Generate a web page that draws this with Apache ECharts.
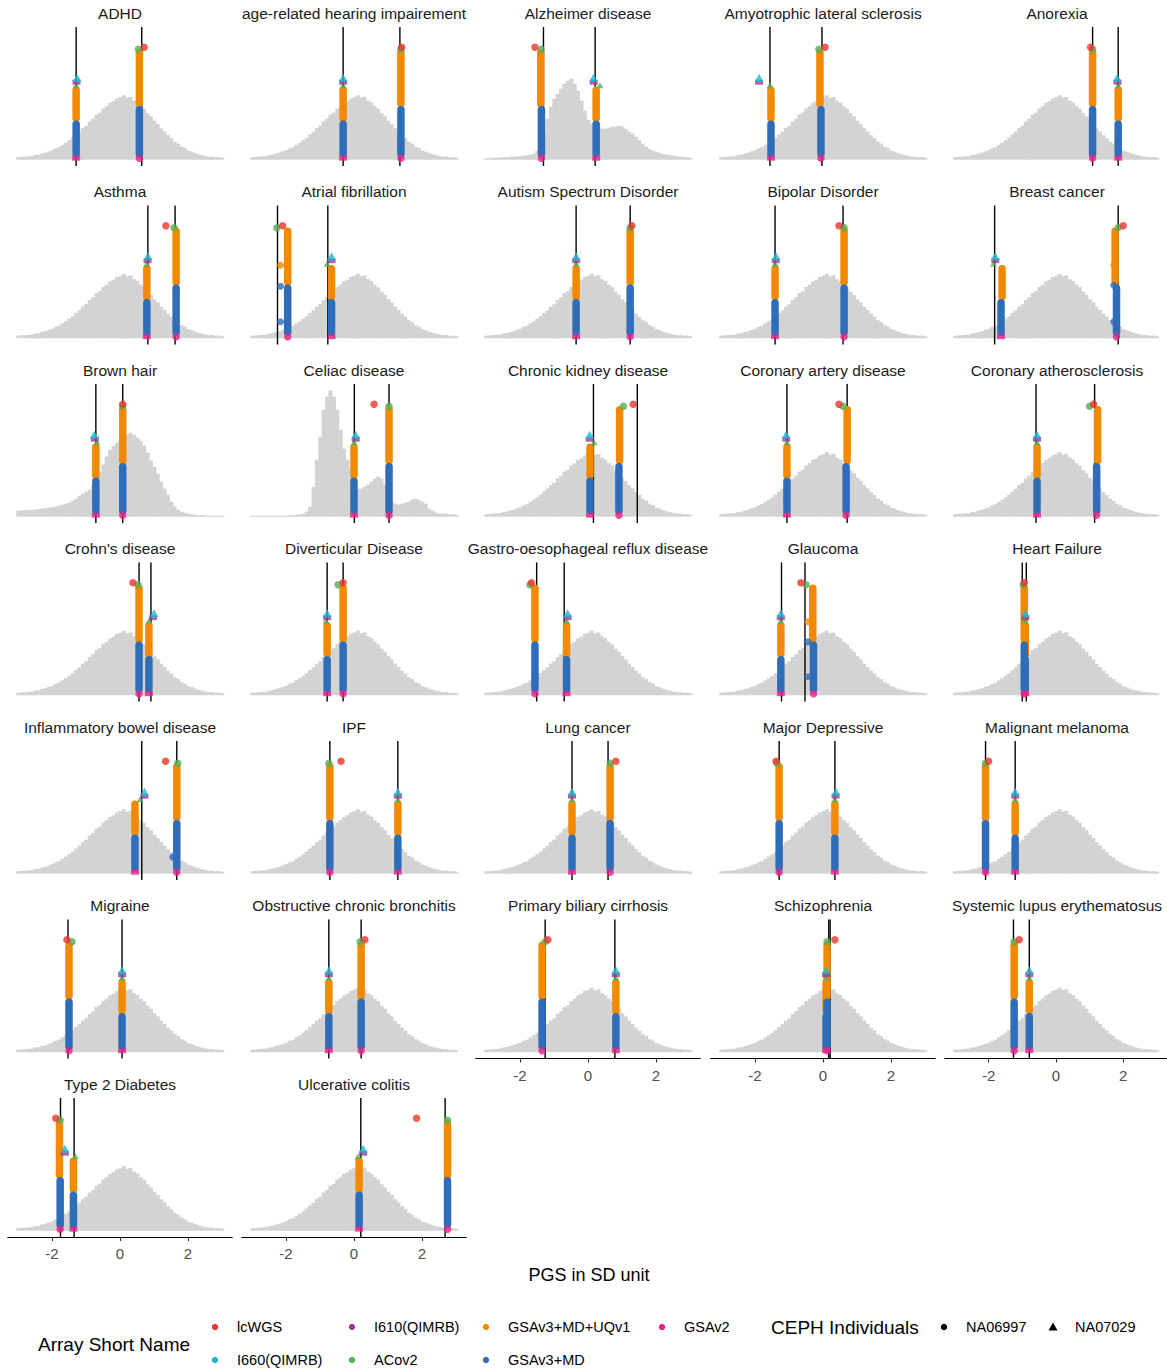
<!DOCTYPE html>
<html><head><meta charset="utf-8">
<script src="https://cdn.jsdelivr.net/npm/echarts@6/dist/echarts.min.js"></script>
<style>html,body{margin:0;padding:0;background:#fff}#chart{width:1167px;height:1369px}</style>
</head><body><div id="chart"></div>
<script>
// ---------------- DATA ----------------
const panelNames = ['ADHD','age-related hearing impairement','Alzheimer disease','Amyotrophic lateral sclerosis','Anorexia',
  'Asthma','Atrial fibrillation','Autism Spectrum Disorder','Bipolar Disorder','Breast cancer',
  'Brown hair','Celiac disease','Chronic kidney disease','Coronary artery disease','Coronary atherosclerosis',
  "Crohn's disease",'Diverticular Disease','Gastro-oesophageal reflux disease','Glaucoma','Heart Failure',
  'Inflammatory bowel disease','IPF','Lung cancer','Major Depressive','Malignant melanoma',
  'Migraine','Obstructive chronic bronchitis','Primary biliary cirrhosis','Schizophrenia','Systemic lupus erythematosus',
  'Type 2 Diabetes','Ulcerative colitis'];

// histogram bins: centres from -3.0 to 3.0, width 0.1
const histBinStart = -3.0;
const histBinWidth = 0.1;
const histNormal = [2.5,2.8,3,3.4,3.5,4.6,5,6.2,7,8.3, 9.5,11.4,12.5,14.9,17,19.4,22,25.2,28,31.6, 34,38.2,41,45.1,47,51.2,53.5,56.8,58.5,61.2,
  62.5,64.5,62,62.8,59,57.2,53.5,51,46.5,43.4, 39,35.8,31.5,28.3,24.5,21.6,18,16.1,13,11.5, 9,8,6.5,5.4,4.5,3.8,3,3.1,2.5,2.6,2];
const histAlzheimer = [1.5,1.5,2,2,2,2.5,2.5,3,3,3, 3.5,4,4.5,5,6,9,14,27,41,53, 61,66,71,76,79,81,76,69,59,49,
  40,36,34,33,31,31,32,33,33,34, 33,31,28,26,23,19.5,16,13,11,9, 8,6.5,5.5,5,4.5,4,3.5,3,3,2.5,2];
const histCeliac = [1,1,1,1,1,1,1,1,1,1, 1,1.5,1.5,2,2.5,3,5,10,30,57, 80,107,120,126,120,107,87,68,57,47,
  36,28,28,30,32,35,38,40,38,32, 23,15,13,12,13,14,15,17,18,17, 15,13,8,6,4,3,3,3,2.5,2.5,2];
const histBrownHair = [6,6,6.5,6.5,7,7,7.5,8,8.5,9, 9.5,10,11,12,13,14,16,18,21,23, 25,27,31,37,45,52,60,67,71,74,
  76,79,82,84,82,79,76,71,64,56, 50,43,35,28,22,15,10,7,5,4, 3,2.5,2,1.5,1.5,1.2,1,1,1,1,1];
const panelHist = ['normal','normal','alzheimer','normal','normal','normal','normal','normal','normal','normal',
  'brown','celiac','normal','normal','normal','normal','normal','normal','normal','normal',
  'normal','normal','normal','normal','normal','normal','normal','normal','normal','normal','normal','normal'];

// vertical reference lines
const vlineA = [-1.29,-0.32,-1.31,-1.56,1.09, 0.82,-2.25,-0.35,-1.41,-1.82, -0.71,0.01,0.16,-1.06,-0.59,
  0.56,-0.79,-1.51,-1.22,-1.00, 0.64,-0.71,-0.47,-1.29,-2.09, -1.53,-0.74,-1.26,0.17,-1.26, -1.75,0.20];
const vlineB = [0.64,1.35,0.21,-0.03,1.85, 1.62,-0.77,1.24,0.59,1.85, 0.08,1.03,1.45,0.71,1.15,
  0.91,-0.32,-0.70,-0.53,-0.88, 1.67,1.29,0.59,0.35,-1.21, 0.06,0.21,0.79,0.21,-0.79, -1.35,2.68];

// NA06997 (circles) x positions per array
const circleBlueX = [0.57,1.38,-1.37,-0.06,1.09, 1.65,-1.95,1.24,0.62,1.80, 0.08,1.03,0.91,0.68,1.21,
  0.56,-0.32,-1.56,-0.28,-0.94, 1.67,-0.71,0.65,-1.29,-2.09, -1.50,0.21,-1.35,0.12,-1.24, -1.76,2.75];
const circleOrangeX = [0.57,1.38,-1.39,-0.09,1.09, 1.65,-1.95,1.24,0.62,1.76, 0.08,1.03,0.93,0.71,1.24,
  0.56,-0.32,-1.56,-0.30,-0.94, 1.67,-0.71,0.65,-1.29,-2.09, -1.50,0.21,-1.35,0.12,-1.24, -1.78,2.75];
const circleGreenX = [0.54,1.38,-1.38,-0.12,1.09, 1.59,-2.27,1.24,0.62,1.85, 0.08,1.03,1.04,0.59,1.00,
  0.53,-0.47,-1.71,-0.50,-0.97, 1.70,-0.74,0.65,-1.35,-2.09, -1.41,0.18,-1.26,0.12,-1.24, -1.76,2.75];
const circleRedX = [0.71,1.40,-1.56,0.06,1.03, 1.35,-2.10,1.29,0.47,2.00, 0.08,0.59,1.33,0.47,1.12,
  0.38,-0.32,-1.66,-0.65,-0.94, 1.34,-0.38,0.82,-1.38,-2.00, -1.56,0.32,-1.18,0.35,-1.09, -1.89,1.84];

// NA07029 (triangles) x positions per array
const triBlueX = [-1.29,-0.32,0.24,-1.53,1.85, 0.79,-0.66,-0.35,-1.41,-1.63, -0.71,0.00,0.06,-1.06,-0.56,
  0.85,-0.79,-0.63,-1.24,-0.91, 0.44,1.29,-0.47,0.35,-1.21, 0.06,-0.74,0.82,0.09,-0.79, -1.37,0.15];
const triOrangeX = [-1.29,-0.32,0.24,-1.53,1.85, 0.79,-0.66,-0.35,-1.41,-1.60, -0.71,0.00,0.06,-1.06,-0.56,
  0.85,-0.79,-0.63,-1.24,-0.91, 0.44,1.29,-0.47,0.35,-1.21, 0.06,-0.74,0.82,0.09,-0.79, -1.37,0.15];
const triGreenX = [-1.29,-0.32,0.35,-1.56,1.85, 0.79,-0.79,-0.35,-1.41,-1.85, -0.68,0.00,0.18,-1.06,-0.56,
  0.85,-0.82,-0.63,-1.24,-0.91, 0.59,1.29,-0.47,0.35,-1.21, 0.06,-0.74,0.82,0.09,-0.79, -1.31,0.12];
const triPurpleX = [-1.28,-0.32,0.17,-1.88,1.83, 0.81,-0.66,-0.35,-1.39,-1.80, -0.74,0.05,0.05,-1.08,-0.56,
  0.97,-0.79,-0.60,-1.24,-0.91, 0.72,1.29,-0.47,0.37,-1.21, 0.06,-0.74,0.82,0.09,-0.79, -1.62,0.27];
const triCyanX = [-1.26,-0.32,0.16,-1.88,1.82, 0.82,-0.66,-0.35,-1.38,-1.80, -0.76,0.05,0.05,-1.09,-0.56,
  1.00,-0.79,-0.60,-1.24,-0.91, 0.72,1.29,-0.47,0.38,-1.21, 0.06,-0.74,0.82,0.09,-0.79, -1.62,0.27];

// sample-order levels (shared y of each array within an individual's stack)
const circleMagentaY = 1.5, circleBlueY = [3, 53], circleOrangeY = [53, 110], circleGreenY = 110.5, circleRedY = 112.5;
const triMagentaY = 1.5, triBlueY = [3, 38.5], triOrangeY = [38.5, 72.5], triGreenY = 74.5, triPurpleY = 77.5, triCyanY = 82;

// isolated samples: [panel, x, y, arrayIndex]
const outliers = [[6,-2.16,73,4],[6,-2.16,52,5],[6,-2.16,16.5,5],[9,1.72,73,4],[9,1.72,53,5],[9,1.72,16.5,5],
  [18,-0.44,73.5,4],[18,-0.44,53.5,5],[18,-0.44,18.5,5],[20,1.55,16.7,5]];

const arrayNames = ['lcWGS','I660(QIMRB)','I610(QIMRB)','ACov2','GSAv3+MD+UQv1','GSAv3+MD','GSAv2'];
const arrayColors = ['#E8372C','#1FB8CE','#9C3B96','#56AE57','#F28A00','#2F6DB8','#E6228A'];
const individualNames = ['NA06997','NA07029'];
const xTicks = [-2, 0, 2];

// ---------------- LAYOUT ----------------
const FONT = '"Liberation Sans", Arial, Helvetica, sans-serif';
const XMIN = -3.3, XMAX = 3.3, YMIN = -6.3, YMAX = 132.7;
const colCenters = [120, 354, 588, 823, 1057];
const pxPerUnit = 34;
const rowTop0 = 27, rowStep = 178.5, panelH = 139;
const bottomPanels = [30, 31, 27, 28, 29];

const histMap = {normal: histNormal, alzheimer: histAlzheimer, celiac: histCeliac, brown: histBrownHair};

const grids = [], xAxes = [], yAxes = [], series = [], graphics = [];

function txt(text, x, y, size, color, align) {
  return {type: 'text', x: x, y: y, silent: true,
    style: {text: text, fill: color, font: size + 'px ' + FONT, textAlign: align, textVerticalAlign: 'middle'}};
}

panelNames.forEach((name, i) => {
  const r = Math.floor(i / 5), c = i % 5;
  const left = colCenters[c] + XMIN * pxPerUnit;
  const top = rowTop0 + rowStep * r;
  grids.push({left: left, top: top, width: (XMAX - XMIN) * pxPerUnit, height: panelH});
  const showAx = bottomPanels.includes(i);
  xAxes.push({
    type: 'value', gridIndex: i, min: XMIN, max: XMAX, show: showAx,
    splitLine: {show: false},
    axisLine: {show: showAx, onZero: false, lineStyle: {color: '#000', width: 1.2}},
    axisTick: {show: showAx, length: 4, customValues: xTicks, lineStyle: {color: '#333', width: 1.1}},
    axisLabel: {show: showAx, customValues: xTicks, color: '#4d4d4d', fontSize: 15, margin: 9, fontFamily: FONT}
  });
  yAxes.push({type: 'value', gridIndex: i, min: YMIN, max: YMAX, show: false, splitLine: {show: false}});

  graphics.push(txt(name, colCenters[c], 13 + rowStep * r, 15.5, '#1a1a1a', 'center'));

  // histogram
  const h = histMap[panelHist[i]];
  series.push({
    type: 'custom', xAxisIndex: i, yAxisIndex: i, z: 1, silent: true,
    data: h.map((v, k) => [histBinStart + histBinWidth * k, v]),
    encode: {x: 0, y: 1},
    renderItem: (params, api) => {
      const xc = api.value(0), v = api.value(1);
      const p0 = api.coord([xc - histBinWidth / 2, 0]);
      const p1 = api.coord([xc + histBinWidth / 2, v]);
      return {type: 'rect', shape: {x: p0[0], y: p1[1], width: p1[0] - p0[0] + 0.6, height: p0[1] - p1[1]},
        style: {fill: '#d3d3d3'}};
    }
  });

  // vertical lines
  series.push({
    type: 'custom', xAxisIndex: i, yAxisIndex: i, z: 2, silent: true,
    data: [[vlineA[i]], [vlineB[i]]],
    encode: {x: 0},
    renderItem: (params, api) => {
      const x = api.value(0);
      const p0 = api.coord([x, YMIN]), p1 = api.coord([x, YMAX]);
      return {type: 'line', shape: {x1: p0[0], y1: p0[1], x2: p1[0], y2: p1[1]}, style: {stroke: '#000', lineWidth: 1.4}};
    }
  });

  // stacked sample columns (blue / orange runs)
  const inset = 3;
  const segs = [
    [triOrangeX[i], triOrangeY[0] + inset, triOrangeX[i], triOrangeY[1] - inset, 4],
    [triBlueX[i], triBlueY[0] + inset, triBlueX[i], triBlueY[1] - inset, 5],
    [circleOrangeX[i], circleOrangeY[0] + inset, circleOrangeX[i], circleOrangeY[1] - inset, 4],
    [circleBlueX[i], circleBlueY[0] + inset, circleBlueX[i], circleBlueY[1] - inset, 5]
  ];
  series.push({
    type: 'custom', xAxisIndex: i, yAxisIndex: i, z: 3, silent: true,
    data: segs, encode: {x: [0, 2], y: [1, 3]},
    renderItem: (params, api) => {
      const p0 = api.coord([api.value(0), api.value(1)]);
      const p1 = api.coord([api.value(2), api.value(3)]);
      return {type: 'line', shape: {x1: p0[0], y1: p0[1], x2: p1[0], y2: p1[1]},
        style: {stroke: arrayColors[api.value(4)], lineWidth: 7.5, lineCap: 'round'}};
    }
  });

  // individual markers
  const pts = [];
  outliers.filter(o => o[0] === i).forEach(o => {
    pts.push({value: [o[1], o[2]], symbol: 'circle', symbolSize: 7, itemStyle: {color: arrayColors[o[3]]}});
  });
  pts.push({value: [triBlueX[i], triMagentaY], symbol: 'rect', symbolSize: [8, 5], itemStyle: {color: arrayColors[6]}});
  pts.push({value: [circleBlueX[i], circleMagentaY], symbol: 'circle', symbolSize: 7.5, itemStyle: {color: arrayColors[6]}});
  pts.push({value: [triGreenX[i], triGreenY], symbol: 'triangle', symbolSize: [7, 6], itemStyle: {color: arrayColors[3]}});
  pts.push({value: [triPurpleX[i], triPurpleY], symbol: 'rect', symbolSize: [8, 5], itemStyle: {color: arrayColors[2]}});
  pts.push({value: [triCyanX[i], triCyanY], symbol: 'triangle', symbolSize: [9, 8], itemStyle: {color: arrayColors[1]}});
  pts.push({value: [circleGreenX[i], circleGreenY], symbol: 'circle', symbolSize: 7.5, itemStyle: {color: arrayColors[3]}});
  pts.push({value: [circleRedX[i], circleRedY], symbol: 'circle', symbolSize: 7.5, itemStyle: {color: arrayColors[0]}});
  series.push({type: 'scatter', xAxisIndex: i, yAxisIndex: i, z: 4, silent: true, data: pts, animation: false});
});

// axis title
graphics.push(txt('PGS in SD unit', 589, 1275, 18, '#000', 'center'));

// legend: Array Short Name
graphics.push(txt('Array Short Name', 38, 1344, 19, '#000', 'left'));
const legCols = [215, 352, 486, 662];
const legRows = [1327, 1360];
arrayNames.forEach((nm, k) => {
  const col = Math.floor(k / 2), row = k % 2;
  const x = legCols[col], y = legRows[row];
  graphics.push({type: 'circle', shape: {cx: x, cy: y, r: 3.2}, style: {fill: arrayColors[k]}});
  graphics.push(txt(nm, x + 22, y, 14.5, '#000', 'left'));
});
// legend: CEPH Individuals
graphics.push(txt('CEPH Individuals', 771, 1327, 19, '#000', 'left'));
graphics.push({type: 'circle', shape: {cx: 944, cy: 1327, r: 3.2}, style: {fill: '#000'}});
graphics.push(txt(individualNames[0], 966, 1327, 14.5, '#000', 'left'));
graphics.push({type: 'polygon', shape: {points: [[1053, 1322.5], [1057.5, 1330.5], [1048.5, 1330.5]]}, style: {fill: '#000'}});
graphics.push(txt(individualNames[1], 1075, 1327, 14.5, '#000', 'left'));

const chart = echarts.init(document.getElementById('chart'), null, {renderer: 'svg', width: 1167, height: 1369});
chart.setOption({
  backgroundColor: '#fff',
  animation: false,
  grid: grids, xAxis: xAxes, yAxis: yAxes, series: series,
  graphic: {elements: graphics}
});
</script>
</body></html>
